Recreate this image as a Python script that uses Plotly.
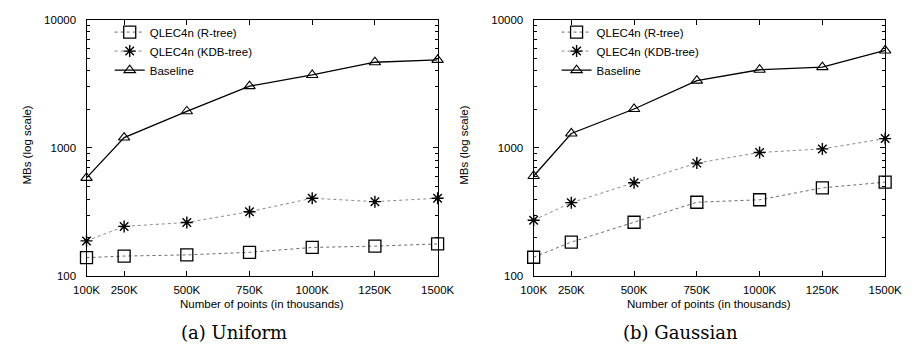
import plotly.graph_objects as go

# ---- data ----
points_k = [100, 250, 500, 750, 1000, 1250, 1500]
tick_labels = ["100K", "250K", "500K", "750K", "1000K", "1250K", "1500K"]

uniform_rtree = [140, 144, 147, 154, 168, 172, 179]
uniform_kdb = [189, 245, 263, 319, 406, 382, 406]
uniform_base = [585, 1205, 1930, 3030, 3700, 4650, 4850]

gauss_rtree = [141, 185, 264, 378, 395, 489, 542]
gauss_kdb = [274, 375, 536, 762, 922, 983, 1183]
gauss_base = [605, 1297, 2010, 3342, 4064, 4259, 5746]

series_names = ["QLEC4n (R-tree)", "QLEC4n (KDB-tree)", "Baseline"]
y_tickvals = [100, 1000, 10000]
y_ticktext = ["100", "1000", "10000"]
captions = ["(a) Uniform", "(b) Gaussian"]
x_title = "Number of points (in thousands)"
y_title = "MBs (log scale)"

FONT = "Liberation Sans, Arial, sans-serif"
FS = 11.5
W, H = 915, 350

fig = go.Figure()

styles = [
    dict(line=dict(color="#6a6a6a", width=1, dash="dot"),
         marker=dict(symbol="square-open", size=12, color="black", line=dict(width=1.3, color="black"))),
    dict(line=dict(color="#8a8a8a", width=1, dash="dot"),
         marker=dict(symbol="asterisk-open", size=10, color="black", line=dict(width=1.4, color="black"))),
    dict(line=dict(color="black", width=1.3, dash="solid"),
         marker=dict(symbol="triangle-up-open", size=10, color="black", line=dict(width=1.1, color="black"))),
]

panels = [
    ([uniform_rtree, uniform_kdb, uniform_base], "x", "y", "legend"),
    ([gauss_rtree, gauss_kdb, gauss_base], "x2", "y2", "legend2"),
]
for series, xa, ya, lg in panels:
    for name, vals, st in zip(series_names, series, styles):
        fig.add_trace(go.Scatter(
            x=points_k, y=vals, name=name, mode="lines+markers",
            xaxis=xa, yaxis=ya, legend=lg, cliponaxis=False,
            line=st["line"], marker=st["marker"],
        ))

# plot area positions (pixels)
left_dom = [76 / W, 439 / W]
right_dom = [538.3 / W, 901.7 / W]
y_dom = [1 - 280 / H, 1 - 14 / H]

xcommon = dict(
    range=[100, 1500], tickmode="array", tickvals=points_k, ticktext=tick_labels,
    ticks="inside", ticklen=5, tickcolor="black", tickwidth=1,
    showline=True, linecolor="black", linewidth=1.2, mirror="allticks",
    showgrid=False, zeroline=False, ticklabelstandoff=3,
    tickfont=dict(family=FONT, size=FS, color="black"),
)
ycommon = dict(
    type="log", range=[2, 4], tickmode="array", tickvals=y_tickvals, ticktext=y_ticktext,
    ticks="inside", ticklen=5, tickcolor="black", tickwidth=1,
    showline=True, linecolor="black", linewidth=1.2, mirror="allticks",
    showgrid=False, zeroline=False, ticklabelstandoff=7,
    tickfont=dict(family=FONT, size=FS, color="black"),
    minor=dict(ticks="inside", ticklen=3, tickcolor="black", dtick="D1", showgrid=False),
)

fig.update_layout(
    width=W, height=H,
    margin=dict(l=0, r=0, t=0, b=0),
    paper_bgcolor="white", plot_bgcolor="white",
    font=dict(family=FONT, size=FS, color="black"),
    xaxis=dict(domain=left_dom, anchor="y", **xcommon),
    yaxis=dict(domain=y_dom, anchor="x", **ycommon),
    xaxis2=dict(domain=right_dom, anchor="y2", **xcommon),
    yaxis2=dict(domain=y_dom, anchor="x2", **ycommon),
    legend=dict(x=100 / W, y=1 - 12 / H, xanchor="left", yanchor="top",
                bgcolor="rgba(0,0,0,0)", font=dict(family=FONT, size=FS), itemwidth=30,
                tracegroupgap=0),
    legend2=dict(x=562 / W, y=1 - 12 / H, xanchor="left", yanchor="top",
                 bgcolor="rgba(0,0,0,0)", font=dict(family=FONT, size=FS), itemwidth=30,
                 tracegroupgap=0),
    showlegend=True,
)

annotations = []
for cx, yx in [((76 + 439) / 2, 15), ((538.3 + 901.7) / 2, 466)]:
    annotations.append(dict(text=x_title, x=cx / W, y=1 - 309 / H, xref="paper", yref="paper",
                            xanchor="center", yanchor="middle", showarrow=False,
                            font=dict(family=FONT, size=FS, color="black")))
    annotations.append(dict(text=y_title, x=yx / W, y=1 - 144 / H, xref="paper", yref="paper",
                            xanchor="center", yanchor="middle", showarrow=False, textangle=-90,
                            font=dict(family=FONT, size=FS, color="black")))
cap_centers = [228, 690]
for c, cap in zip(cap_centers, captions):
    annotations.append(dict(text=cap, x=c / W, y=1 - 338 / H, xref="paper", yref="paper",
                            xanchor="center", yanchor="middle", showarrow=False,
                            font=dict(family="DejaVu Serif, serif", size=18, color="black")))
fig.update_layout(annotations=annotations)

fig.write_html("out.html")
